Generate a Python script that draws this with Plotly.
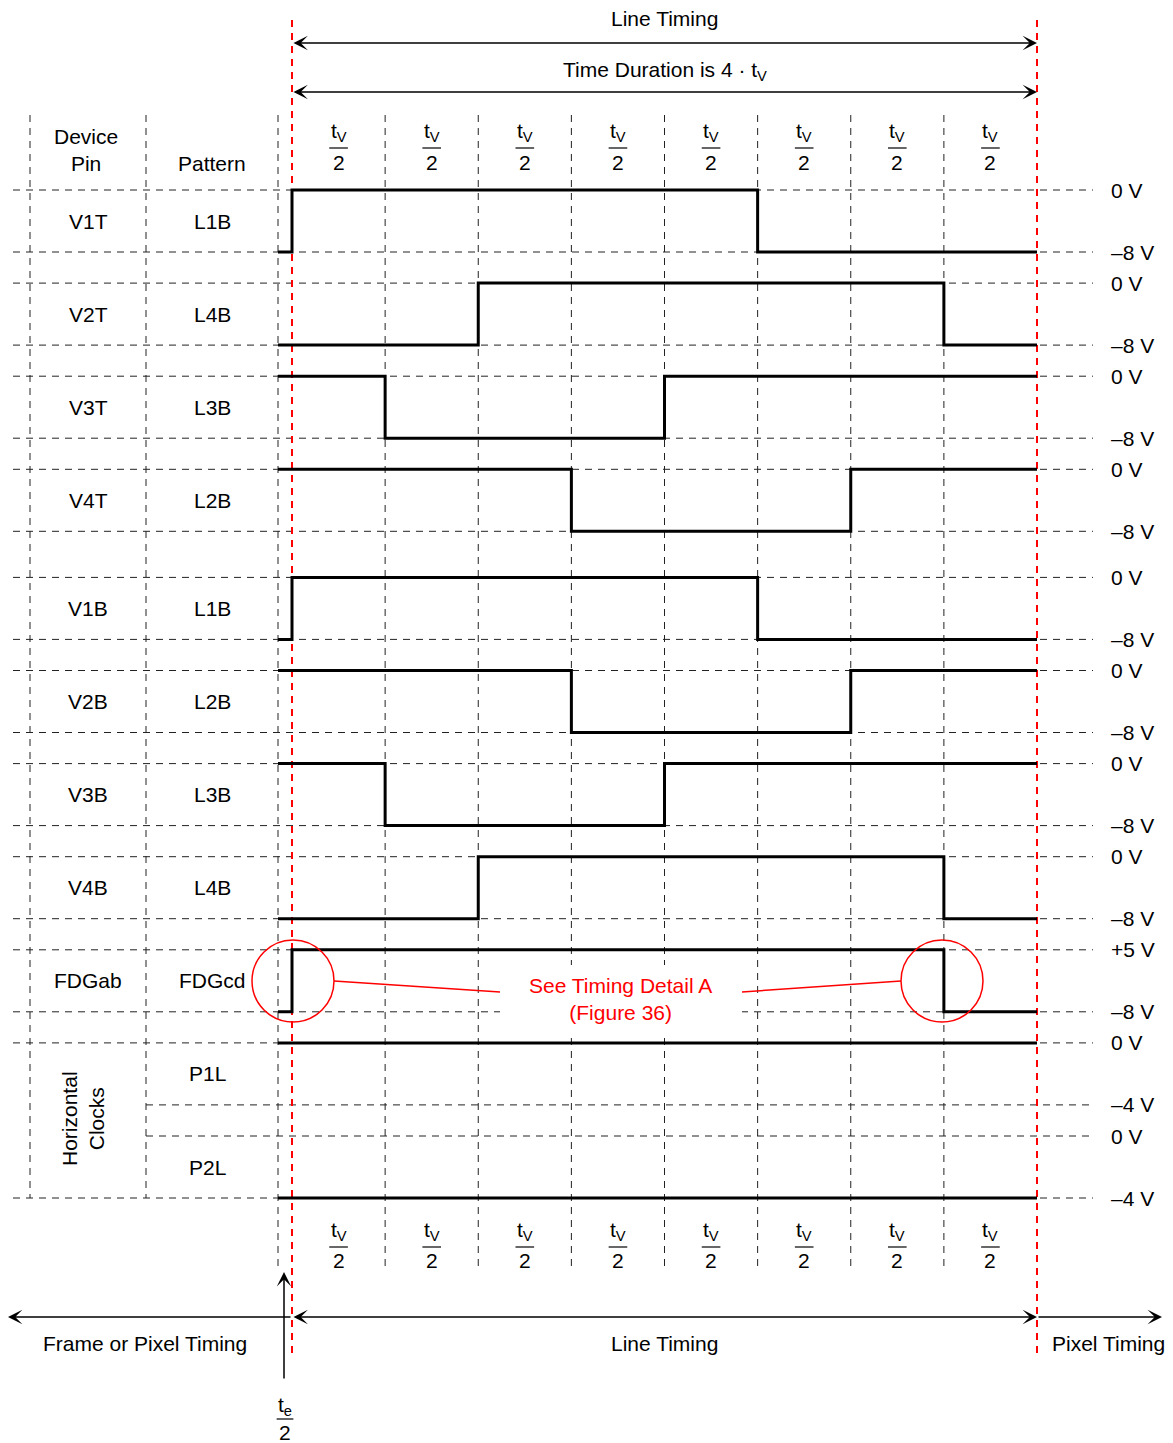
import plotly.graph_objects as go

# ---------------- data ----------------
device_pins = ["V1T", "V2T", "V3T", "V4T", "V1B", "V2B", "V3B", "V4B", "FDGab"]
patterns = ["L1B", "L4B", "L3B", "L2B", "L1B", "L2B", "L3B", "L4B", "FDGcd", "P1L", "P2L"]
initial_high = [False, False, True, True, False, True, True, False, False, True, False]
transitions = [[0, 5], [2, 7], [1, 4], [3, 6], [0, 5], [3, 6], [1, 4], [2, 7], [0, 7], [], []]
high_labels = ["0 V"] * 8 + ["+5 V", "0 V", "0 V"]
low_labels = ["–8 V"] * 9 + ["–4 V", "–4 V"]
n_slots = 8                      # line timing = 8 slots of tV/2
slot_num = "t<sub>V</sub>"
slot_den = "2"
top_titles = ["Line Timing", "Time Duration is 4 · t<sub>V</sub>"]
bottom_titles = ["Frame or Pixel Timing", "Line Timing", "Pixel Timing"]
detail_text = "See Timing Detail A<br>(Figure 36)"
header_pin = "Device<br>Pin"
header_pattern = "Pattern"
horiz_label = "Horizontal<br>Clocks"

# ---------------- layout constants ----------------
W, H = 1173, 1443
PAGE_OFF = 8                      # browser body margin
X0, UNIT = 292.0, 93.125          # pixel of time 0 and pixels per tV/2


def ux(px):
    return (px - X0) / UNIT


ROW0, PITCH, GAP, ROWH = 190.0, 93.1, 15.0, 62.0


def row_top(i):
    return ROW0 + PITCH * i + (GAP if i >= 4 else 0)


FONT = "Liberation Sans, Arial, sans-serif"
FS = 21
BLACK = "#000000"
RED = "#ff0000"
GRID_DASH = "7px,6px"

fig = go.Figure()
shapes = []
ann = []

# horizontal dashed level lines
for i in range(len(patterns)):
    for k, y in enumerate([row_top(i), row_top(i) + ROWH]):
        x_start = 13
        if (i == 9 and k == 1) or (i == 10 and k == 0):
            x_start = 146
        shapes.append(dict(type="line", xref="x", yref="y", x0=ux(x_start), x1=ux(1093), y0=y, y1=y,
                           line=dict(color="#222", width=1, dash=GRID_DASH), layer="below"))

# vertical dashed column/grid lines
for px in [30, 146]:
    shapes.append(dict(type="line", xref="x", yref="y", x0=ux(px), x1=ux(px), y0=115, y1=1198,
                       line=dict(color="#222", width=1, dash=GRID_DASH), layer="below"))
grid_x = [ux(278)] + list(range(1, n_slots))
for gx in grid_x:
    shapes.append(dict(type="line", xref="x", yref="y", x0=gx, x1=gx, y0=115, y1=1268,
                       line=dict(color="#222", width=1, dash=GRID_DASH), layer="below"))

# white box behind detail text
shapes.append(dict(type="rect", xref="x", yref="y", x0=ux(500), x1=ux(742), y0=965, y1=1032,
                   fillcolor="white", line=dict(width=0), layer="below"))

# red dashed line-timing boundaries
for gx in [0, n_slots]:
    shapes.append(dict(type="line", xref="x", yref="y", x0=gx, x1=gx, y0=20, y1=1355,
                       line=dict(color=RED, width=2, dash="7px,6px"), layer="below"))

# signals
for i, (init, tr) in enumerate(zip(initial_high, transitions)):
    top, bot = row_top(i), row_top(i) + ROWH
    lvl = init
    xs, ys = [ux(278)], [top if lvl else bot]
    for t in tr:
        lvl = not lvl
        xs.append(t)
        ys.append(top if lvl else bot)
    xs.append(n_slots)
    ys.append(top if lvl else bot)
    fig.add_trace(go.Scatter(x=xs, y=ys, mode="lines", line=dict(color=BLACK, width=3, shape="hv"),
                             hoverinfo="skip", showlegend=False))

# voltage labels on the right
for i in range(len(patterns)):
    for y, lab in [(row_top(i), high_labels[i]), (row_top(i) + ROWH, low_labels[i])]:
        ann.append(dict(x=ux(1109), y=y, text=lab, xanchor="left", yanchor="middle", showarrow=False))

# device pins and patterns
for i, p in enumerate(device_pins):
    ann.append(dict(x=ux(88), y=row_top(i) + ROWH / 2, text=p, showarrow=False))
for i, p in enumerate(patterns):
    px = 212 if i < 9 else 207
    ann.append(dict(x=ux(px), y=row_top(i) + ROWH / 2, text=p, showarrow=False))
ann.append(dict(x=ux(86), y=150, text=header_pin, showarrow=False))
ann.append(dict(x=ux(212), y=163, text=header_pattern, showarrow=False))
ann.append(dict(x=ux(83), y=1119, text=horiz_label, textangle=-90, showarrow=False))


# tV/2 fractions
def fraction(xc, ynum, ybar, yden, num, half=0.1):
    ann.append(dict(x=xc, y=ynum, text=num, showarrow=False))
    ann.append(dict(x=xc, y=yden, text=slot_den, showarrow=False))
    shapes.append(dict(type="line", xref="x", yref="y", x0=xc - half, x1=xc + half, y0=ybar, y1=ybar,
                       line=dict(color=BLACK, width=1.2)))


for k in range(n_slots):
    fraction(k + 0.5, 132, 148, 162, slot_num)
    fraction(k + 0.5, 1231, 1247, 1260, slot_num)
fraction(ux(285), 1406, 1419, 1432, "t<sub>e</sub>", half=0.09)

# titles
ann.append(dict(x=n_slots / 2, y=18, text=top_titles[0], showarrow=False))
ann.append(dict(x=n_slots / 2, y=71, text=top_titles[1], showarrow=False))
ann.append(dict(x=ux(145), y=1343, text=bottom_titles[0], showarrow=False))
ann.append(dict(x=n_slots / 2, y=1343, text=bottom_titles[1], showarrow=False))
ann.append(dict(x=ux(1108), y=1343, text=bottom_titles[2], showarrow=False))


# arrows
def arrow(x, y, axv, ayv, both=False):
    ann.append(dict(x=x, y=y, ax=axv, ay=ayv, axref="x", ayref="y", xref="x", yref="y", text="",
                    showarrow=True, arrowhead=3, startarrowhead=3, arrowsize=1.6, startarrowsize=1.6,
                    arrowwidth=1.5, arrowcolor=BLACK, arrowside="end+start" if both else "end",
                    standoff=0, startstandoff=0))


arrow(n_slots, 43, 0, 43, both=True)
arrow(n_slots, 92, 0, 92, both=True)
arrow(n_slots, 1317, 0, 1317, both=True)
arrow(ux(8), 1317, 0, 1317)
arrow(ux(1162), 1317, n_slots, 1317)
arrow(ux(284), 1272, ux(284), 1380)

# red detail callouts
for cx in [ux(293), ux(942)]:
    r = 41 / UNIT
    shapes.append(dict(type="circle", xref="x", yref="y", x0=cx - r, x1=cx + r, y0=940, y1=1022,
                       line=dict(color=RED, width=1.5)))
shapes.append(dict(type="line", xref="x", yref="y", x0=ux(334), x1=ux(500), y0=981, y1=992,
                   line=dict(color=RED, width=1.5)))
shapes.append(dict(type="line", xref="x", yref="y", x0=ux(742), x1=ux(901), y0=992, y1=981,
                   line=dict(color=RED, width=1.5)))
ann.append(dict(x=ux(620), y=999, text=detail_text, showarrow=False, font=dict(color=RED, size=FS, family=FONT)))

for a in ann:
    a.setdefault("xref", "x")
    a.setdefault("yref", "y")
    a.setdefault("font", dict(color=BLACK, size=FS, family=FONT))

fig.update_layout(
    width=W - PAGE_OFF, height=H - PAGE_OFF, margin=dict(l=0, r=0, t=0, b=0),
    paper_bgcolor="white", plot_bgcolor="white",
    xaxis=dict(range=[ux(PAGE_OFF), ux(W)], visible=False, fixedrange=True),
    yaxis=dict(range=[H, PAGE_OFF], visible=False, fixedrange=True),
    shapes=shapes, annotations=ann, showlegend=False,
)
fig.write_html("out.html", config={"displayModeBar": False})
